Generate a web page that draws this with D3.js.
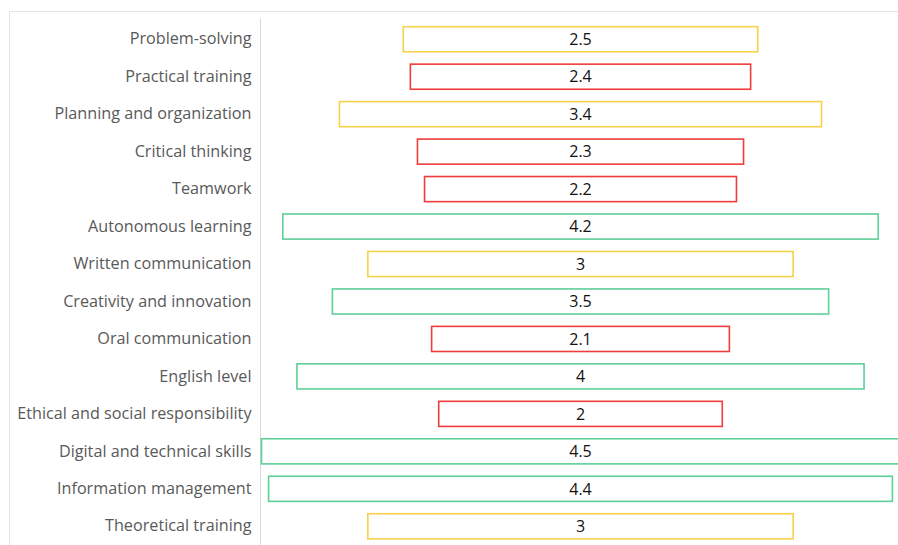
<!DOCTYPE html>
<html>
<head>
<meta charset="utf-8">
<script src="https://cdn.jsdelivr.net/npm/d3@7"></script>
<style>
body { margin: 0; background: #fff; }
svg { display: block; }
</style>
</head>
<body>
<svg width="898" height="545"></svg>
<script>
const skills = ["Problem-solving", "Practical training", "Planning and organization", "Critical thinking",
    "Teamwork", "Autonomous learning", "Written communication", "Creativity and innovation",
    "Oral communication", "English level", "Ethical and social responsibility",
    "Digital and technical skills", "Information management", "Theoretical training"];
const scores = [2.5, 2.4, 3.4, 2.3, 2.2, 4.2, 3, 3.5, 2.1, 4, 2, 4.5, 4.4, 3];

const svg = d3.select('svg');
const center = 580.5;

// frame
svg.append('path')
    .attr('d', 'M9.5,545 V11.5 H898')
    .attr('fill', 'none')
    .attr('stroke', '#e3e3e3');

const scaleY = d3.scaleBand()
    .domain(skills)
    .range([20.5, 545])
    .paddingInner(0.33)
    .paddingOuter(0.165);

const scaleW = d3.scaleLinear()
    .domain([0, 4.5])
    .range([0, 638]);

function color(v) {
    if (v >= 3.5) return '#5fcf98';
    if (v >= 2.5) return '#f7d14a';
    return '#f03c3c';
}

const axisY = d3.axisLeft(scaleY).tickSize(0).tickPadding(9);
const axisG = svg.append('g')
    .attr('transform', 'translate(260.5,0)')
    .call(axisY);
axisG.select('.domain').attr('stroke', '#d9d9d9').attr('d', 'M0,18V545');
axisG.selectAll('text')
    .attr('fill', '#595959')
    .style('font-family', '"Open Sans", sans-serif')
    .style('font-size', '16.2px');

const barG = svg.append('g');
barG.selectAll('rect')
    .data(scores)
    .enter()
    .append('rect')
    .attr('x', d => center - scaleW(d) / 2)
    .attr('y', (d, i) => scaleY(skills[i]))
    .attr('width', d => scaleW(d))
    .attr('height', scaleY.bandwidth())
    .attr('fill', 'white')
    .attr('stroke', d => color(d))
    .attr('stroke-width', 1.6);

barG.selectAll('text')
    .data(scores)
    .enter()
    .append('text')
    .attr('x', center)
    .attr('y', (d, i) => scaleY(skills[i]) + scaleY.bandwidth() / 2)
    .attr('dy', '0.36em')
    .attr('text-anchor', 'middle')
    .attr('fill', '#111')
    .style('font-family', '"Open Sans", sans-serif')
    .style('font-size', '16px')
    .text(d => d);
</script>
</body>
</html>
